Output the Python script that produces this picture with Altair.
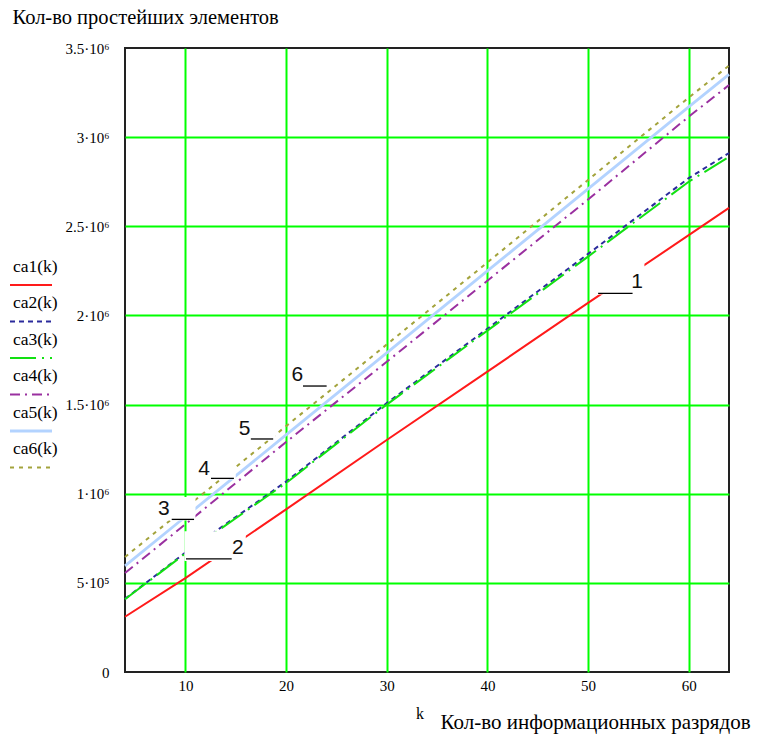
import altair as alt
import pandas as pd

# Number of information bits (x) and element counts of the six schemes (y)
k_points = [4, 10, 20, 30, 40, 50, 60, 64]
ca1 = [310e3, 527e3, 912e3, 1301e3, 1685e3, 2070e3, 2450e3, 2603e3]
ca2 = [410e3, 670e3, 1068e3, 1508e3, 1925e3, 2345e3, 2770e3, 2911e3]
ca3 = [408e3, 665e3, 1060e3, 1500e3, 1915e3, 2330e3, 2750e3, 2889e3]
ca4 = [555e3, 829e3, 1290e3, 1740e3, 2195e3, 2650e3, 3115e3, 3292e3]
ca5 = [595e3, 871e3, 1330e3, 1790e3, 2250e3, 2710e3, 3170e3, 3352e3]
ca6 = [645e3, 920e3, 1379e3, 1837e3, 2297e3, 2760e3, 3222e3, 3401e3]

series_names = ["ca1(k)", "ca2(k)", "ca3(k)", "ca4(k)", "ca5(k)", "ca6(k)"]
series_values = [ca1, ca2, ca3, ca4, ca5, ca6]

# Trace styles
series_colors = ["#ff1a1a", "#2b2b9c", "#12e012", "#9a30a0", "#b3d3ff", "#a3a33c"]
series_dash = [None, [5, 4], [26, 6, 2, 6], [10, 5, 2, 5], None, [4, 5]]
series_width = [2.0, 2.0, 2.0, 2.0, 2.8, 2.0]

# Curve number tags: text position, leader line and the opaque box behind them
tag_text = ["1", "2", "3", "4", "5", "6"]
tag_k = [54.87, 15.22, 7.87, 11.85, 15.87, 21.13]
tag_v = [2.190e6, 0.698e6, 0.917e6, 1.141e6, 1.363e6, 1.668e6]
leader_k0 = [51.0, 10.06, 8.64, 12.54, 16.5, 21.68]
leader_k1 = [54.42, 14.6, 10.86, 14.82, 18.72, 24.03]
leader_v = [2.124e6, 0.634e6, 0.856e6, 1.086e6, 1.307e6, 1.604e6]
box_k0 = [51.0, 9.9, 7.2, 11.25, 15.3, 20.5]
box_k1 = [55.6, 16.0, 11.0, 15.0, 18.9, 24.3]
box_v0 = [2.118e6, 0.623e6, 0.850e6, 1.080e6, 1.300e6, 1.598e6]
box_v1 = [2.290e6, 0.790e6, 0.982e6, 1.200e6, 1.425e6, 1.733e6]

x_ticks = [10, 20, 30, 40, 50, 60]
y_ticks = [0, 5e5, 1e6, 1.5e6, 2e6, 2.5e6, 3e6, 3.5e6]

SERIF = "Liberation Serif, Times New Roman, DejaVu Serif, serif"
SANS = "Liberation Sans, Arial, sans-serif"
W, H = 604, 624

x_scale = alt.Scale(domain=[4, 64], nice=False, zero=False)
y_scale = alt.Scale(domain=[0, 3.5e6], nice=False)

x_axis = alt.Axis(
    values=x_ticks,
    title="Кол-во информационных разрядов",
    titleFont=SERIF, titleFontSize=21, titleFontWeight="normal", titleColor="black",
    titleAlign="left", titleBaseline="alphabetic", titleX=315, titleY=56,
    labelPadding=6,
)
y_axis = alt.Axis(
    values=y_ticks,
    labelExpr=(
        "datum.value == 0 ? '0' : datum.value < 1000000 ? "
        "(datum.value / 100000) + '·10⁵' : (datum.value / 1000000) + '·10⁶'"
    ),
    gridColor={
        "condition": {"test": "datum.value == 0 || datum.value == 3500000", "value": "transparent"},
        "value": "#00ff00",
    },
    title="Кол-во простейших элементов",
    titleFont=SERIF, titleFontSize=20.5, titleFontWeight="normal", titleColor="black",
    titleAngle=0, titleAlign="left", titleBaseline="alphabetic", titleX=-113, titleY=-25,
    labelPadding=16,
)

layers = []

# Traces
for name, vals, color, dash, width in zip(series_names, series_values, series_colors,
                                          series_dash, series_width):
    df = pd.DataFrame({"k": k_points, "v": vals})
    mark_args = dict(color=color, strokeWidth=width)
    if dash:
        mark_args["strokeDash"] = dash
    layers.append(
        alt.Chart(df).mark_line(**mark_args).encode(
            x=alt.X("k:Q", scale=x_scale, axis=x_axis),
            y=alt.Y("v:Q", scale=y_scale, axis=y_axis),
        )
    )

tags = pd.DataFrame({
    "tag": tag_text, "tk": tag_k, "tv": tag_v,
    "lk0": leader_k0, "lk1": leader_k1, "lv": leader_v,
    "bk0": box_k0, "bk1": box_k1, "bv0": box_v0, "bv1": box_v1,
})

# Opaque backgrounds of the tag text regions
layers.append(
    alt.Chart(tags).mark_rect(color="white").encode(
        x=alt.X("bk0:Q", scale=x_scale, axis=x_axis), x2="bk1:Q",
        y=alt.Y("bv0:Q", scale=y_scale, axis=y_axis), y2="bv1:Q",
    )
)
# Leader underlines
layers.append(
    alt.Chart(tags).mark_rule(color="black", strokeWidth=1.3).encode(
        x=alt.X("lk0:Q", scale=x_scale, axis=x_axis), x2="lk1:Q",
        y=alt.Y("lv:Q", scale=y_scale, axis=y_axis),
    )
)
# Tag numbers
layers.append(
    alt.Chart(tags).mark_text(font=SANS, fontSize=21, color="#111", baseline="middle").encode(
        x=alt.X("tk:Q", scale=x_scale, axis=x_axis),
        y=alt.Y("tv:Q", scale=y_scale, axis=y_axis),
        text="tag:N",
    )
)

# Legend column to the left of the axis: name above, line sample below
LEG_X0, LEG_X1 = -115, -73
LEG_Y0, LEG_STEP = 237, 36.5
for i, (name, color, dash, width) in enumerate(zip(series_names, series_colors,
                                                   series_dash, series_width)):
    y_line = LEG_Y0 + i * LEG_STEP
    rule_args = dict(color=color, strokeWidth=width)
    if dash:
        rule_args["strokeDash"] = dash
    sample = pd.DataFrame({"name": [name]})
    layers.append(
        alt.Chart(sample).mark_rule(**rule_args).encode(
            x=alt.value(LEG_X0), x2=alt.value(LEG_X1), y=alt.value(y_line)
        )
    )
    layers.append(
        alt.Chart(sample).mark_text(font=SERIF, fontSize=17.5, color="black",
                                    align="left", baseline="middle").encode(
            x=alt.value(LEG_X0 + 3), y=alt.value(y_line - 18.5), text="name:N"
        )
    )

# Argument name next to the x-axis title
layers.append(
    alt.Chart(pd.DataFrame({"t": ["k"]})).mark_text(
        font=SERIF, fontSize=16, color="black", align="left", baseline="middle"
    ).encode(x=alt.value(291), y=alt.value(666), text="t:N")
)

chart = (
    alt.layer(*layers)
    .properties(
        width=W, height=H,
        autosize=alt.AutoSizeParams(type="none"),
        padding={"left": 125, "top": 48, "right": 35, "bottom": 64},
        background="white",
    )
    .configure_view(stroke="#222", strokeWidth=2)
    .configure_axis(
        grid=True, gridColor="#00ff00", gridWidth=2, gridOpacity=1,
        domain=False, ticks=False,
        labelFont=SERIF, labelFontSize=15, labelColor="black",
    )
)

chart.save("out.html", embed_options={"renderer": "svg", "actions": False})
